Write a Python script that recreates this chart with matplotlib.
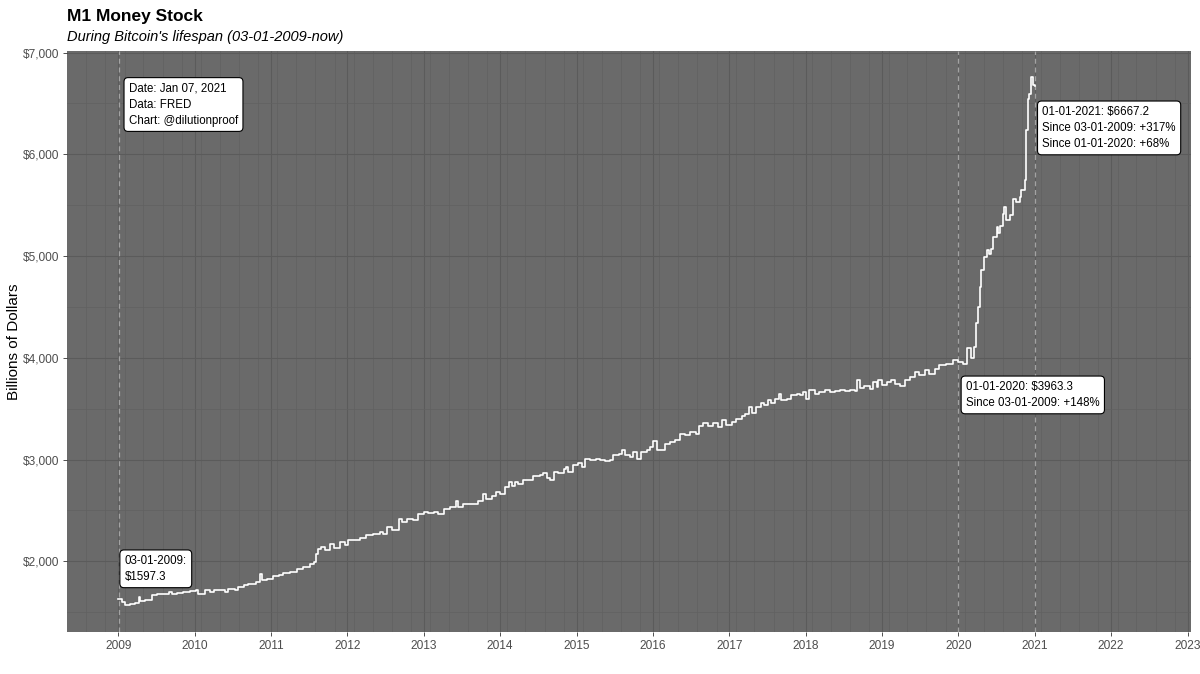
import matplotlib
matplotlib.use("Agg")
import matplotlib.pyplot as plt
import matplotlib.transforms as mtransforms
from matplotlib.ticker import FuncFormatter, FixedLocator
import numpy as np

# ---- data (decimal year, billions of dollars) ----
year = [
    2009.00, 2009.05, 2009.09, 2009.16, 2009.22, 2009.27, 2009.29, 2009.35, 2009.44, 2009.51,
    2009.59, 2009.66, 2009.70, 2009.77, 2009.85, 2009.94, 2010.02, 2010.05, 2010.14, 2010.20,
    2010.25, 2010.33, 2010.40, 2010.44, 2010.53, 2010.57, 2010.64, 2010.70, 2010.77, 2010.81,
    2010.85, 2010.88, 2010.95, 2011.03, 2011.10, 2011.16, 2011.25, 2011.34, 2011.42, 2011.51,
    2011.56, 2011.59, 2011.62, 2011.66, 2011.71, 2011.77, 2011.82, 2011.90, 2011.97, 2012.01,
    2012.10, 2012.17, 2012.25, 2012.34, 2012.43, 2012.47, 2012.52, 2012.58, 2012.67, 2012.71,
    2012.78, 2012.86, 2012.93, 2013.00, 2013.06, 2013.13, 2013.19, 2013.26, 2013.34, 2013.42,
    2013.45, 2013.52, 2013.58, 2013.65, 2013.71, 2013.78, 2013.82, 2013.89, 2013.95, 2014.00,
    2014.06, 2014.11, 2014.15, 2014.19, 2014.24, 2014.30, 2014.39, 2014.43, 2014.52, 2014.56,
    2014.61, 2014.65, 2014.70, 2014.76, 2014.83, 2014.86, 2014.89, 2014.96, 2015.02, 2015.07,
    2015.11, 2015.18, 2015.26, 2015.31, 2015.37, 2015.44, 2015.48, 2015.55, 2015.59, 2015.63,
    2015.70, 2015.74, 2015.79, 2015.85, 2015.92, 2015.96, 2016.00, 2016.05, 2016.11, 2016.16,
    2016.22, 2016.29, 2016.35, 2016.42, 2016.48, 2016.57, 2016.61, 2016.66, 2016.72, 2016.79,
    2016.85, 2016.90, 2016.96, 2017.03, 2017.09, 2017.16, 2017.20, 2017.26, 2017.30, 2017.35,
    2017.42, 2017.46, 2017.51, 2017.55, 2017.60, 2017.65, 2017.68, 2017.75, 2017.81, 2017.88,
    2017.92, 2017.97, 2018.01, 2018.05, 2018.12, 2018.18, 2018.25, 2018.32, 2018.38, 2018.45,
    2018.51, 2018.58, 2018.64, 2018.67, 2018.71, 2018.77, 2018.84, 2018.88, 2018.93, 2018.95,
    2019.00, 2019.06, 2019.12, 2019.17, 2019.23, 2019.30, 2019.36, 2019.43, 2019.49, 2019.56,
    2019.62, 2019.69, 2019.75, 2019.84, 2019.93, 2020.00, 2020.06, 2020.11, 2020.17, 2020.21,
    2020.23, 2020.26, 2020.28, 2020.30, 2020.34, 2020.37, 2020.40, 2020.43, 2020.45, 2020.50,
    2020.52, 2020.54, 2020.58, 2020.60, 2020.62, 2020.67, 2020.72, 2020.76, 2020.80, 2020.82,
    2020.87, 2020.89, 2020.91, 2020.93, 2020.95, 2020.97, 2021.00,
]
m1 = [
    1634, 1600, 1568, 1578, 1590, 1649, 1607, 1624, 1666, 1683,
    1676, 1699, 1676, 1689, 1699, 1705, 1715, 1676, 1722, 1699,
    1722, 1722, 1699, 1725, 1722, 1748, 1764, 1781, 1781, 1797,
    1879, 1813, 1830, 1853, 1862, 1885, 1895, 1928, 1944, 1977,
    1993, 2075, 2124, 2140, 2115, 2174, 2135, 2190, 2157, 2206,
    2206, 2233, 2255, 2265, 2288, 2272, 2337, 2311, 2419, 2386,
    2419, 2403, 2469, 2484, 2474, 2484, 2469, 2518, 2533, 2592,
    2533, 2560, 2567, 2567, 2592, 2665, 2616, 2638, 2681, 2665,
    2730, 2779, 2737, 2779, 2756, 2796, 2802, 2835, 2845, 2867,
    2822, 2796, 2877, 2867, 2910, 2926, 2877, 2943, 2966, 2926,
    3009, 2999, 3009, 2992, 2982, 2999, 3041, 3058, 3097, 3041,
    3025, 3074, 3009, 3074, 3090, 3123, 3182, 3090, 3090, 3156,
    3172, 3195, 3254, 3238, 3270, 3254, 3326, 3360, 3325, 3360,
    3320, 3385, 3336, 3368, 3402, 3424, 3451, 3516, 3457, 3516,
    3555, 3532, 3582, 3555, 3598, 3647, 3582, 3598, 3631, 3647,
    3631, 3663, 3598, 3680, 3647, 3663, 3680, 3663, 3673, 3680,
    3673, 3686, 3673, 3778, 3706, 3719, 3696, 3761, 3712, 3778,
    3729, 3761, 3778, 3745, 3719, 3778, 3810, 3860, 3827, 3876,
    3843, 3893, 3925, 3942, 3974, 3963, 3942, 4092, 3994, 4105,
    4338, 4498, 4694, 4858, 4989, 5055, 5022, 5072, 5186, 5284,
    5222, 5300, 5415, 5480, 5350, 5399, 5563, 5530, 5579, 5645,
    5743, 6234, 6545, 6594, 6757, 6676, 6667,
]

marker_years = [2009.005, 2020.0, 2021.0]
year_ticks = list(range(2009, 2024))
y_ticks = [2000, 3000, 4000, 5000, 6000, 7000]
y_minor = [1500, 2500, 3500, 4500, 5500, 6500]
minor_month_offsets = [31 / 365, 120 / 365, 212 / 365, 304 / 365]  # Feb, May, Aug, Nov

info_text = "Date: Jan 07, 2021\nData: FRED\nChart: @dilutionproof"
label_2009 = "03-01-2009:\n$1597.3"
label_2020 = "01-01-2020: $3963.3\nSince 03-01-2009: +148%"
label_2021 = "01-01-2021: $6667.2\nSince 03-01-2009: +317%\nSince 01-01-2020: +68%"

# ---- figure ----
plt.rcParams["font.family"] = ["Liberation Sans", "DejaVu Sans"]
W, H = 1200, 674
fig = plt.figure(figsize=(W / 100, H / 100), dpi=100)
left, right, top, bottom = 67, 1191, 51, 632
ax = fig.add_axes([left / W, 1 - bottom / H, (right - left) / W, (bottom - top) / H])
ax.set_facecolor("#6a6a6a")

ax.set_xlim(2008.329, 2023.045)
ax.set_ylim(1305, 7015)

# grid
minor_x = [y0 + o for y0 in range(2008, 2024) for o in minor_month_offsets]
ax.xaxis.set_major_locator(FixedLocator(year_ticks))
ax.xaxis.set_minor_locator(FixedLocator(minor_x))
ax.yaxis.set_major_locator(FixedLocator(y_ticks))
ax.yaxis.set_minor_locator(FixedLocator(y_minor))
ax.grid(which="major", color="#5b5b5b", linewidth=0.75, zorder=0)
ax.grid(which="minor", color="#616161", linewidth=0.5, zorder=0)
ax.set_axisbelow(True)

for s in ax.spines.values():
    s.set_visible(False)

ax.xaxis.set_major_formatter(FuncFormatter(lambda v, p: f"{int(round(v))}"))
ax.yaxis.set_major_formatter(FuncFormatter(lambda v, p: f"${v:,.0f}"))
ax.tick_params(which="major", length=3, width=0.6, color="#333333",
               labelcolor="#4d4d4d", labelsize=8.6, pad=2.5)
ax.tick_params(which="minor", length=0)

# dashed markers
for xv in marker_years:
    ax.axvline(xv, color="#a3a3a3", linewidth=0.9, linestyle=(0, (4, 3)), zorder=1)

# line
ax.plot(year, m1, color="white", linewidth=1.2, drawstyle="steps-post", zorder=3)

# labels
box = dict(boxstyle="round,pad=0.42,rounding_size=0.35", facecolor="white",
           edgecolor="black", linewidth=0.8)
fs = 8.3
def label(xv, yv, txt):
    tr = mtransforms.offset_copy(ax.transData, fig=fig, x=4.5, y=-4.5, units="dots")
    ax.text(xv, yv, txt, transform=tr, ha="left", va="top", fontsize=fs,
            color="black", linespacing=1.45, bbox=box, zorder=5)

label(2009.08, 6750, info_text)
label(2021.04, 6520, label_2021)
label(2020.04, 3817, label_2020)
label(2009.026, 2108, label_2009)

# titles
fig.text(67 / W, 1 - 21 / H, "M1 Money Stock", fontsize=12.5, fontweight="bold",
         ha="left", va="baseline", color="black")
fig.text(67 / W, 1 - 41 / H, "During Bitcoin's lifespan (03-01-2009-now)", fontsize=10.5,
         style="italic", ha="left", va="baseline", color="black")
fig.text(14 / W, 1 - ((top + bottom) / 2) / H, "Billions of Dollars", fontsize=11,
         rotation=90, ha="center", va="center", color="black")

fig.savefig("out.png", dpi=100, facecolor="white")
